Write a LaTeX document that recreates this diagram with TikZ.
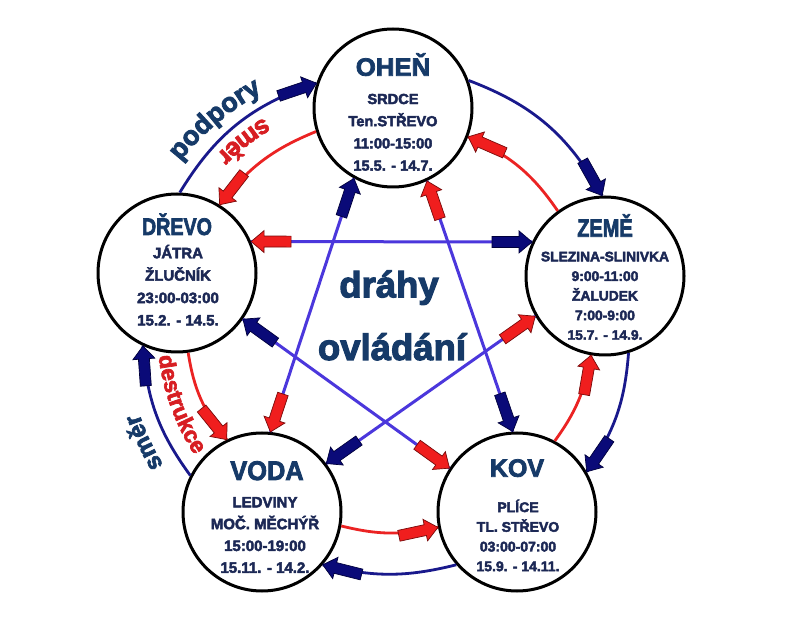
\documentclass[tikz,border=0pt]{standalone}
\usepackage{fontspec}
\setmainfont{Liberation Sans}
\newfontfamily\heavy{Liberation Sans}[BoldFeatures={FakeBold=3}]
\usetikzlibrary{calc,decorations.markings,decorations.text}
\definecolor{ringblue}{RGB}{25,25,140}
\definecolor{navyfill}{RGB}{10,10,120}
\definecolor{navyedge}{RGB}{0,0,60}
\definecolor{starblue}{RGB}{75,55,220}
\definecolor{ringred}{RGB}{235,35,35}
\definecolor{redfill}{RGB}{240,30,30}
\definecolor{rededge}{RGB}{120,10,10}
\definecolor{titlecol}{RGB}{22,58,104}
\definecolor{bodycol}{RGB}{28,40,85}
\definecolor{labred}{RGB}{215,30,35}
\newcommand{\blkfwd}[2]{\filldraw[fill=#1,draw=#2,line width=0.7pt,line join=miter] (0pt,0pt)--(-13pt,11pt)--(-13pt,5.5pt)--(-40pt,5.5pt)--(-40pt,-5.5pt)--(-13pt,-5.5pt)--(-13pt,-11pt)--cycle;}
\newcommand{\blkbwd}[2]{\filldraw[fill=#1,draw=#2,line width=0.7pt,line join=miter] (0pt,0pt)--(13pt,11pt)--(13pt,5.5pt)--(40pt,5.5pt)--(40pt,-5.5pt)--(13pt,-5.5pt)--(13pt,-11pt)--cycle;}
\begin{document}
\begin{tikzpicture}[x=1pt,y=1pt,
  elem/.style={circle,draw=black,line width=3pt,fill=white,minimum size=158pt,inner sep=0pt},
  ringb/.style={draw=ringblue,line width=2.8pt,postaction={decorate,decoration={markings,mark=at position 1 with {\blkfwd{navyfill}{navyedge}}}}},
  ringr/.style={draw=ringred,line width=2.8pt,postaction={decorate,decoration={markings,mark=at position 1 with {\blkfwd{redfill}{rededge}}}}},
  starl/.style={draw=starblue,line width=3pt,postaction={decorate,decoration={markings,mark=at position 0 with {\blkbwd{redfill}{rededge}},mark=at position 1 with {\blkfwd{navyfill}{navyedge}}}}},
  ttl/.style={text=titlecol,anchor=base,inner sep=0pt},
  bdy/.style={text=bodycol,align=center,anchor=center,inner sep=0pt},
  big/.style={text=titlecol,anchor=base,inner sep=0pt,font=\heavy\bfseries\fontsize{36.5}{40}\selectfont}
]
\fill[white] (0,0) rectangle (801,635);
\useasboundingbox (0,0) rectangle (801,635);
\coordinate (O) at (390,307);
% element circles
\node[elem] (ohen) at (393,527) {};
\node[elem] (drevo) at (177,362) {};
\node[elem] (zeme) at (605,359) {};
\node[elem] (voda) at (262,123) {};
\node[elem] (kov) at (517,123) {};
% outer blue ring (clockwise)
\draw[ringb] (ohen.20) to[bend left=20] (zeme.92);
\draw[ringb] (zeme.287) to[bend left=15] (kov.30);
\draw[ringb] (kov.221) to[bend left=14] (voda.319);
\draw[ringb] (voda.153) to[bend left=16] (drevo.245);
\draw[ringb] (drevo.88) to[bend left=20] (ohen.162);
% inner red ring (counter-clockwise)
\draw[ringr] (zeme.126) to[bend right=16] (ohen.339);
\draw[ringr] (ohen.197) to[bend right=15] (drevo.58);
\draw[ringr] (drevo.278) to[bend right=15] (voda.116);
\draw[ringr] (voda.350) to[bend right=13] (kov.191);
\draw[ringr] (kov.62) to[bend right=13] (zeme.260);
% star
\draw[starl] (drevo.23) -- (zeme.155);
\draw[starl] (zeme.210) -- (voda.37);
\draw[starl] (voda.84) -- (ohen.241);
\draw[starl] (ohen.295) -- (kov.93);
\draw[starl] (kov.147) -- (drevo.325);
% curved labels
\path[decorate,decoration={text along path,text align=center,text color=titlecol,
  text={|\heavy\bfseries\fontsize{27}{27}\selectfont|podpory}}]
  ($(O)+(154:268)$) arc[start angle=154,end angle=106,radius=268];
\path[decorate,decoration={text along path,text align=center,text color=labred,
  text={|\heavy\bfseries\fontsize{25.5}{25.5}\selectfont|směr}}]
  ($(O)+(108:245)$) arc[start angle=108,end angle=148,radius=245];
\path[decorate,decoration={text along path,text align=center,text color=labred,
  text={|\heavy\bfseries\fontsize{22.5}{22.5}\selectfont|destrukce}}]
  ($(O)+(178:233)$) arc[start angle=178,end angle=222,radius=233];
\path[decorate,decoration={text along path,text align=center,text color=titlecol,
  text={|\heavy\bfseries\fontsize{24}{24}\selectfont|směr}}]
  ($(O)+(225:265)$) arc[start angle=225,end angle=185,radius=265];
% texts
\node[ttl,font=\heavy\bfseries\fontsize{25}{28}\selectfont,xscale=1.03] (ohenT) at (393,559.3) {OHEŇ};
\node[bdy,font=\heavy\bfseries\fontsize{14.6}{22.2}\selectfont] (ohenB) at (393,502.7) {SRDCE\\Ten.STŘEVO\\11:00-15:00\\15.5. - 14.7.};
\node[ttl,font=\heavy\bfseries\fontsize{24}{28}\selectfont,xscale=0.82] (drevoT) at (177,400) {DŘEVO};
\node[bdy,font=\heavy\bfseries\fontsize{15}{22.4}\selectfont] (drevoB) at (178,349.7) {JÁTRA\\ŽLUČNÍK\\23:00-03:00\\15.2. - 14.5.};
\node[ttl,font=\heavy\bfseries\fontsize{25}{28}\selectfont,xscale=0.8] (zemeT) at (605,398.3) {ZEMĚ};
\node[bdy,font=\heavy\bfseries\fontsize{13.8}{19.6}\selectfont] (zemeB) at (605,339.2) {SLEZINA-SLINIVKA\\9:00-11:00\\ŽALUDEK\\7:00-9:00\\15.7. - 14.9.};
\node[ttl,font=\heavy\bfseries\fontsize{27}{30}\selectfont,xscale=0.94] (vodaT) at (267,155) {VODA};
\node[bdy,font=\heavy\bfseries\fontsize{15}{21.8}\selectfont] (vodaB) at (265,100) {LEDVINY\\MOČ. MĚCHÝŘ\\15:00-19:00\\15.11. - 14.2.};
\node[ttl,font=\heavy\bfseries\fontsize{25}{28}\selectfont] (kovT) at (517,158.3) {KOV};
\node[bdy,font=\heavy\bfseries\fontsize{14}{19.7}\selectfont] (kovB) at (518,99.5) {PLÍCE\\TL. STŘEVO\\03:00-07:00\\15.9. - 14.11.};
\node[big] (drahy) at (389,337.7) {dráhy};
\node[big] (ovladani) at (392,275) {ovládání};
\end{tikzpicture}
\end{document}
